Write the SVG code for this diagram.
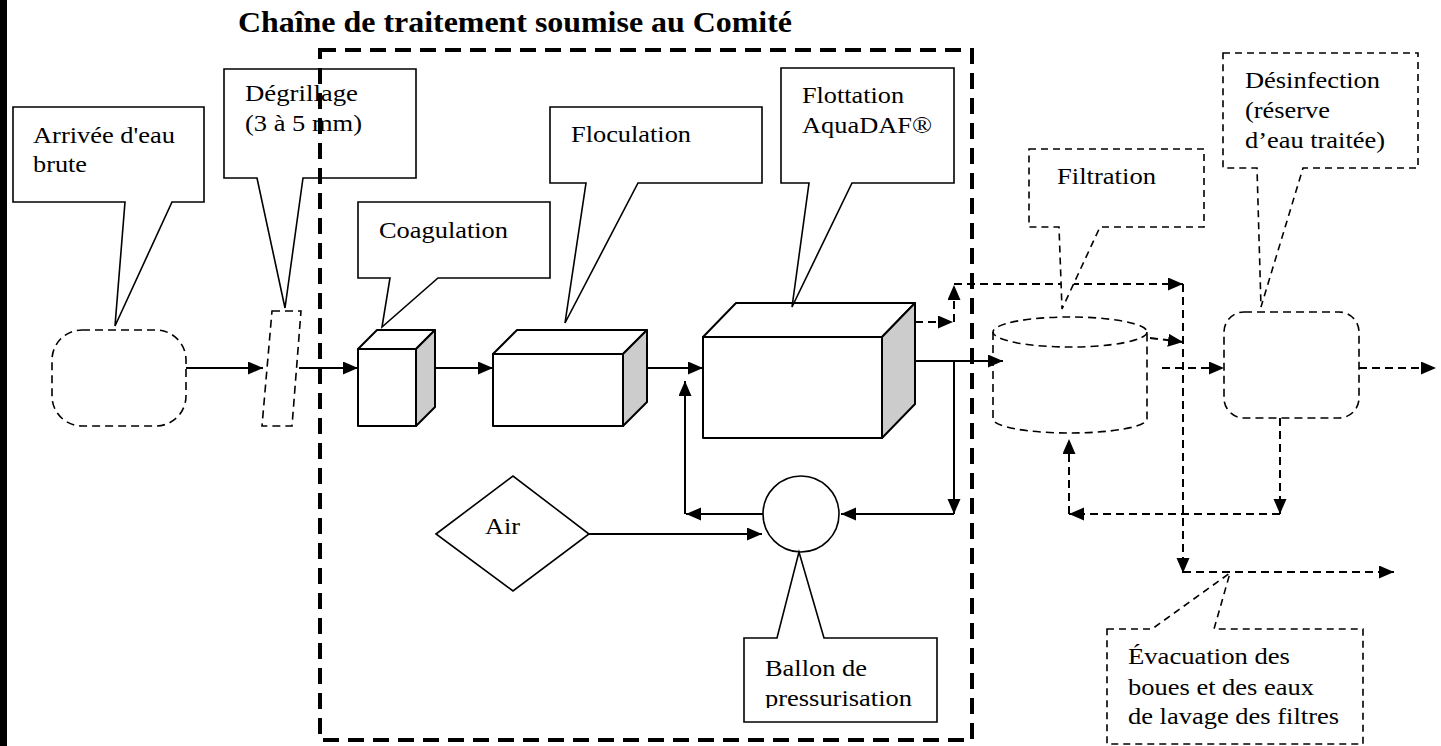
<svg xmlns="http://www.w3.org/2000/svg" width="1441" height="746" viewBox="0 0 1441 746">
<style>
.t{font-family:"Liberation Serif","Times New Roman",serif;font-size:24px;fill:#000}
.title{font-weight:bold;font-size:29px}
.co{fill:#fff;stroke:#000;stroke-width:1.6;stroke-linejoin:miter}
.dco{fill:#fff;stroke:#000;stroke-width:1.6;stroke-dasharray:7 5}
.dsh{fill:none;stroke:#000;stroke-width:1.6;stroke-dasharray:8 5}
.face{fill:#fff;stroke:#000;stroke-width:2;stroke-linejoin:round}
.side{fill:#ccc;stroke:#000;stroke-width:2;stroke-linejoin:round}
.c{fill:none;stroke:#000;stroke-width:2}
.d{fill:none;stroke:#000;stroke-width:2;stroke-dasharray:8 5}
</style>
<defs>
<marker id="ah" markerUnits="userSpaceOnUse" markerWidth="16" markerHeight="14" refX="15" refY="6.5" orient="auto">
<path d="M0,0 L15,6.5 L0,13 Z" fill="#000"/>
</marker>
<clipPath id="clipBallon"><rect x="744" y="638" width="193" height="70"/></clipPath>
</defs>
<rect x="0" y="0" width="7" height="746" fill="#000"/>
<text class="t title" x="238" y="32" textLength="554" lengthAdjust="spacingAndGlyphs">Chaîne de traitement soumise au Comité</text>

<g id="connectors">
<path class="c" d="M186,368 H263" marker-end="url(#ah)"/>
<path class="c" d="M299,368 H358" marker-end="url(#ah)"/>
<path class="c" d="M435,368 H493" marker-end="url(#ah)"/>
<path class="c" d="M647,368 H703" marker-end="url(#ah)"/>
<path class="c" d="M915,361 H1003" marker-end="url(#ah)"/>
<path class="c" d="M954,361 V514" marker-end="url(#ah)"/>
<path class="c" d="M954,514 H841" marker-end="url(#ah)"/>
<path class="c" d="M763,514 H686" marker-end="url(#ah)"/>
<path class="c" d="M685,514 V381" marker-end="url(#ah)"/>
<path class="c" d="M589,534 H762" marker-end="url(#ah)"/>
<path class="d" d="M915,322 H953" marker-end="url(#ah)"/>
<path class="d" d="M954,322 V285" marker-end="url(#ah)"/>
<path class="d" d="M954,284 H1183" marker-end="url(#ah)"/>
<path class="d" d="M1183,284 V573" marker-end="url(#ah)"/>
<path class="d" d="M1150,338 L1183,342" marker-end="url(#ah)"/>
<path class="d" d="M1162,368 H1224" marker-end="url(#ah)"/>
<path class="d" d="M1359,368 H1436" marker-end="url(#ah)"/>
<path class="d" d="M1280,418 V514" marker-end="url(#ah)"/>
<path class="d" d="M1280,514 H1069" marker-end="url(#ah)"/>
<path class="d" d="M1069,514 V439" marker-end="url(#ah)"/>
<path class="d" d="M1183,572 H1394" marker-end="url(#ah)"/>
</g>

<g id="arrivee">
<rect class="dsh" x="52" y="330" width="134" height="96" rx="30" ry="30"/>
<path class="co" d="M13,107 H204 V202 H172 L115,326 L125,202 H13 Z"/>
<text class="t" x="33" y="143" textLength="142" lengthAdjust="spacingAndGlyphs">Arrivée d'eau</text>
<text class="t" x="33" y="172" textLength="54" lengthAdjust="spacingAndGlyphs">brute</text>
</g>

<g id="degrillage">
<polygon class="dsh" points="272,311 301,311 292,426 262,426"/>
<path class="co" d="M224,69 H416 V178 H303 L285,308 L257,178 H224 Z"/>
<text class="t" x="245" y="101" textLength="113" lengthAdjust="spacingAndGlyphs">Dégrillage</text>
<text class="t" x="245" y="131" textLength="117" lengthAdjust="spacingAndGlyphs">(3 à 5 mm)</text>
</g>

<g id="coagulation">
<rect class="face" x="358" y="349" width="58" height="77"/>
<polygon class="face" points="358,349 377,330 435,330 416,349"/>
<polygon class="side" points="416,349 435,330 435,407 416,426"/>
<path class="co" d="M358,202 H550 V278 H438 L382,327 L390,278 H358 Z"/>
<text class="t" x="379" y="238" textLength="129" lengthAdjust="spacingAndGlyphs">Coagulation</text>
</g>

<g id="floculation">
<rect class="face" x="493" y="354" width="130" height="72"/>
<polygon class="face" points="493,354 517,330 647,330 623,354"/>
<polygon class="side" points="623,354 647,330 647,402 623,426"/>
<path class="co" d="M550,107 H762 V183 H638 L565,323 L586,183 H550 Z"/>
<text class="t" x="571" y="142" textLength="120" lengthAdjust="spacingAndGlyphs">Floculation</text>
</g>

<g id="flottation">
<rect class="face" x="703" y="337" width="179" height="101"/>
<polygon class="face" points="703,337 736,303 915,303 882,337"/>
<polygon class="side" points="882,337 915,303 915,404 882,438"/>
<path class="co" d="M781,68 H954 V183 H852 L792,307 L809,183 H781 Z"/>
<text class="t" x="802" y="103" textLength="102" lengthAdjust="spacingAndGlyphs">Flottation</text>
<text class="t" x="802" y="133" textLength="130" lengthAdjust="spacingAndGlyphs">AquaDAF®</text>
</g>

<g id="air">
<polygon class="co" points="436,534 513,476 589,534 513,591"/>
<text class="t" x="485" y="534" textLength="35" lengthAdjust="spacingAndGlyphs">Air</text>
</g>

<g id="ballon">
<circle class="co" cx="801" cy="514" r="38"/>
<path class="co" d="M744,638 H777 L799,552 L824,638 H937 V722 H744 Z"/>
<g clip-path="url(#clipBallon)">
<text class="t" x="765" y="676" textLength="102" lengthAdjust="spacingAndGlyphs">Ballon de</text>
<text class="t" x="765" y="706" textLength="147" lengthAdjust="spacingAndGlyphs">pressurisation</text>
</g>
</g>

<g id="filtration">
<ellipse class="dsh" cx="1070" cy="332" rx="77" ry="15"/>
<path class="dsh" d="M993,332 V419 A77,14 0 0 0 1147,419 V332"/>
<path class="dco" d="M1029,149 H1204 V227 H1100 L1062,309 L1059,227 H1029 Z"/>
<text class="t" x="1057" y="184" textLength="99" lengthAdjust="spacingAndGlyphs">Filtration</text>
</g>

<g id="desinfection">
<rect class="dsh" x="1224" y="312" width="135" height="106" rx="20" ry="20"/>
<path class="dco" d="M1223,53 H1418 V168 H1303 L1261,307 L1257,168 H1223 Z"/>
<text class="t" x="1245" y="88" textLength="135" lengthAdjust="spacingAndGlyphs">Désinfection</text>
<text class="t" x="1245" y="118" textLength="85" lengthAdjust="spacingAndGlyphs">(réserve</text>
<text class="t" x="1245" y="148" textLength="140" lengthAdjust="spacingAndGlyphs">d’eau traitée)</text>
</g>

<g id="evacuation">
<path class="dco" d="M1107,629 H1152 L1230,573 L1214,629 H1363 V744 H1107 Z"/>
<text class="t" x="1128" y="664" textLength="162" lengthAdjust="spacingAndGlyphs">Évacuation des</text>
<text class="t" x="1128" y="695" textLength="186" lengthAdjust="spacingAndGlyphs">boues et des eaux</text>
<text class="t" x="1128" y="724" textLength="211" lengthAdjust="spacingAndGlyphs">de lavage des filtres</text>
</g>

<g id="comite-boundary">
<rect x="320" y="50" width="652" height="690" fill="none" stroke="#000" stroke-width="4" stroke-dasharray="16 9"/>
</g>
</svg>
